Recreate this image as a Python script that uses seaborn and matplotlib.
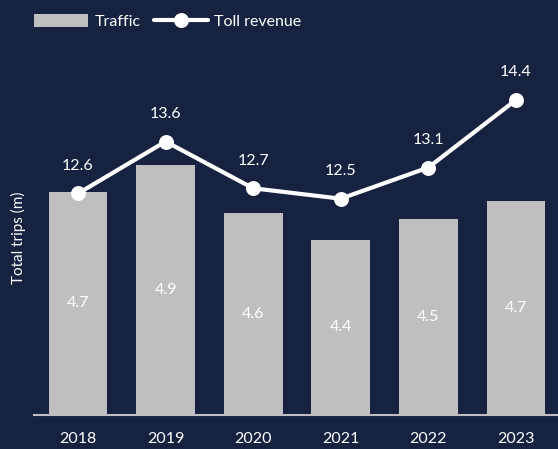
import seaborn as sns
import pandas as pd
import matplotlib.pyplot as plt

# data
years = ['2018', '2019', '2020', '2021', '2022', '2023']
traffic = [4.72, 4.90, 4.58, 4.40, 4.54, 4.66]      # total trips (m)
toll_revenue = [12.6, 13.6, 12.7, 12.5, 13.1, 14.4]

bg = '#172240'
bar_grey = '#bfbfbf'

sns.set_theme(style='white')
plt.rcParams['font.family'] = ['Lato', 'DejaVu Sans']

df = pd.DataFrame({'year': years, 'traffic': traffic, 'revenue': toll_revenue})

fig = plt.figure(figsize=(5.58, 4.49), dpi=100, facecolor=bg)
ax1 = fig.add_axes([0.061, 0.0757, 0.939, 0.79])
ax1.set_facecolor(bg)

sns.barplot(data=df, x='year', y='traffic', color=bar_grey, saturation=1,
            width=0.67, linewidth=0, edgecolor='none', ax=ax1, label='Traffic')
ax1.bar_label(ax1.containers[0], labels=[f'{v:.1f}' for v in traffic],
              label_type='center', color='white', fontsize=11.5)
ax1.set_ylim(3.23, 5.597)
ax1.set_xlim(-0.502, 5.48)

ax2 = ax1.twinx()
sns.pointplot(data=df, x='year', y='revenue', color='white', linewidth=3,
              markersize=8.5, ax=ax2, label='Toll revenue')
ax2.set_ylim(8.337, 15.163)
ax2.set_xlim(-0.502, 5.48)
for i, v in enumerate(toll_revenue):
    ax2.annotate(f'{v:.1f}', xy=(i, v), xytext=(0, 20), textcoords='offset points',
                 ha='center', va='center', color='white', fontsize=11.5)

h1, l1 = ax1.get_legend_handles_labels()
h2, l2 = ax2.get_legend_handles_labels()
for ax in (ax1, ax2):
    if ax.get_legend() is not None:
        ax.get_legend().remove()
    for s in ax.spines.values():
        s.set_visible(False)
    ax.set_yticks([])
    ax.set_ylabel('')
    ax.set_xlabel('')
    ax.grid(False)
ax1.spines['bottom'].set_visible(True)
ax1.spines['bottom'].set_color(bar_grey)
ax1.spines['bottom'].set_linewidth(1.5)
ax1.tick_params(axis='x', colors='white', labelsize=11.5, length=0, pad=12)

ax1.set_ylabel('Total trips (m)', color='white', fontsize=11, labelpad=6)

fig.legend(h1 + h2, l1 + l2, loc='upper left', bbox_to_anchor=(0.035, 1.0),
           ncol=2, frameon=False, labelcolor='white', fontsize=11.5,
           handlelength=3.4, handleheight=0.8, columnspacing=0.8, handletextpad=0.4)

fig.savefig('out.png', facecolor=bg)
